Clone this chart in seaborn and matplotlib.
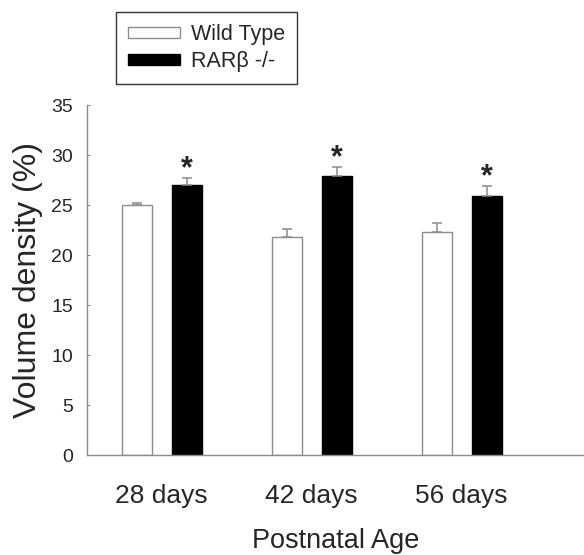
import matplotlib
matplotlib.use("Agg")
import matplotlib.pyplot as plt
import seaborn as sns
import pandas as pd

# data
ages = ["28 days", "42 days", "56 days"]
groups = ["Wild Type", "RAR\u03b2 -/-"]
wt_mean = [25.0, 21.8, 22.3]
wt_sem = [0.2, 0.8, 0.9]
ko_mean = [27.0, 27.9, 25.9]
ko_sem = [0.7, 0.9, 1.05]
signif = [True, True, True]   # asterisk over the knockout bar

df = pd.DataFrame({
    "age": ages * 2,
    "group": [groups[0]] * 3 + [groups[1]] * 3,
    "value": wt_mean + ko_mean,
    "err": wt_sem + ko_sem,
})

sns.set_style("ticks")
plt.rcParams["font.family"] = ["Liberation Sans", "DejaVu Sans"]

fig = plt.figure(figsize=(5.84, 5.55), dpi=100)
ax = fig.add_axes([87 / 584, 100 / 555, 497 / 584, 350 / 555])

sns.barplot(data=df, x="age", y="value", hue="group", hue_order=groups,
            palette=["white", "black"], width=2 / 3, gap=0.4,
            errorbar=None, legend=True, ax=ax)

# white bars get a grey edge, black bars a black edge
grey = "#8c8c8c"
for cont, ec in zip(ax.containers, [grey, "black"]):
    for p in cont:
        p.set_edgecolor(ec)
        p.set_linewidth(1.0)

# one-sided (upper) error bars
for cont, g in zip(ax.containers, groups):
    sub = df[df.group == g]
    xs = [p.get_x() + p.get_width() / 2 for p in cont]
    ax.errorbar(xs, sub["value"], yerr=[[0] * len(xs), list(sub["err"])],
                fmt="none", ecolor=grey, elinewidth=1.1, capsize=3.7,
                capthick=1.1, zorder=1)

# asterisks above knockout bars
ko_bars = ax.containers[1]
for p, m, e, s in zip(ko_bars, ko_mean, ko_sem, signif):
    if s:
        ax.annotate("*", (p.get_x() + p.get_width() / 2, m + e),
                    xytext=(0, 6), textcoords="offset points",
                    ha="center", va="center", fontsize=22, fontweight="bold")

ax.set_ylim(0, 35)
ax.set_yticks(range(0, 36, 5))
ax.set_xlim(-0.497, 2.816)

sns.despine(ax=ax)
for sp in ["left", "bottom"]:
    ax.spines[sp].set_color(grey)
    ax.spines[sp].set_linewidth(1.0)
ax.tick_params(axis="y", direction="in", length=2.5, color=grey,
               labelsize=14, pad=10)
ax.tick_params(axis="x", length=0, labelsize=19, pad=21)

ax.set_xlabel("Postnatal Age", fontsize=19.5, labelpad=14)
ax.set_ylabel("Volume density (%)", fontsize=23, labelpad=6)

leg = ax.legend(loc="upper left", bbox_to_anchor=(116 / 584, 1 - 12 / 555),
                bbox_transform=fig.transFigure, frameon=True, fancybox=False,
                fontsize=15.5, handlelength=2.4, handleheight=0.4,
                borderpad=0.55, labelspacing=0.3, handletextpad=0.55,
                borderaxespad=0)
leg.get_frame().set_edgecolor("black")
leg.get_frame().set_linewidth(1.0)
for h, ec in zip(leg.legend_handles, [grey, "black"]):
    h.set_edgecolor(ec)

fig.savefig("out.png", dpi=100)
